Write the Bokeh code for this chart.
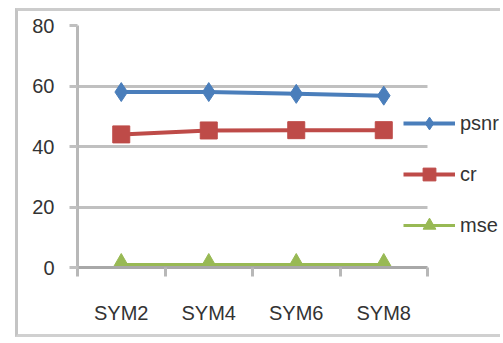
from bokeh.plotting import figure
from bokeh.models import FixedTicker, Legend, LegendItem
from bokeh.embed import file_html
from bokeh.resources import INLINE
import numpy as np

# wavelet families compared
categories = ["SYM2", "SYM4", "SYM6", "SYM8"]
psnr = [58.0, 58.0, 57.4, 56.8]
cr = [44.0, 45.3, 45.4, 45.4]
mse = [1.0, 1.0, 1.0, 1.0]
y_ticks = [0, 20, 40, 60, 80]

FONT = "Liberation Sans"
TEXT = "#333333"
GRID = "#c0c0c0"

n = len(categories)
xc = np.arange(n) + 0.5

# the frame reaches the right edge so the legend has room; axis and grid stop at n
p = figure(width=485, height=329, output_backend="svg", toolbar_location=None,
           x_range=(0, n * 426 / 350), y_range=(0, 80),
           min_border_left=59, min_border_right=0, min_border_top=14,
           min_border_bottom=73)
p.margin = (8, 0, 0, 15)
p.styles = {"border-left": "3px solid #c4c4c4", "border-top": "3px solid #cccccc",
            "border-bottom": "3px solid #d0d0d0"}
p.outline_line_color = None
p.background_fill_color = "white"
p.border_fill_color = "white"

# y axis
p.yaxis.ticker = FixedTicker(ticks=y_ticks)
p.yaxis.axis_line_color = "#b8b8b8"
p.yaxis.axis_line_width = 3
p.yaxis.major_tick_line_color = GRID
p.yaxis.major_tick_line_width = 3
p.yaxis.major_tick_out = 8
p.yaxis.major_tick_in = 0
p.yaxis.minor_tick_line_color = None
p.yaxis.major_label_standoff = 15
p.yaxis.major_label_text_font = FONT
p.yaxis.major_label_text_font_size = "20px"
p.yaxis.major_label_text_color = TEXT

# x axis: labels at category centres, ticks on category boundaries
p.xaxis.bounds = (0, n)
p.xaxis.ticker = FixedTicker(ticks=list(xc), minor_ticks=list(range(n + 1)))
p.xaxis.major_label_overrides = {float(x): c for x, c in zip(xc, categories)}
p.xaxis.axis_line_color = "#a8a8a8"
p.xaxis.axis_line_width = 3
p.xaxis.major_tick_line_color = None
p.xaxis.minor_tick_line_color = "#b8b8b8"
p.xaxis.minor_tick_line_width = 3
p.xaxis.minor_tick_out = 9
p.xaxis.minor_tick_in = 0
p.xaxis.major_label_standoff = 25
p.xaxis.major_label_text_font = FONT
p.xaxis.major_label_text_font_size = "20px"
p.xaxis.major_label_text_color = TEXT

p.xgrid.grid_line_color = None
p.ygrid.ticker = FixedTicker(ticks=y_ticks[1:])
p.ygrid.cross_bounds = (0, n)
p.ygrid.grid_line_color = GRID
p.ygrid.grid_line_width = 3

BLUE, RED, GREEN = "#4a7ebb", "#be4b48", "#98b954"

l1 = p.line(xc, psnr, line_color=BLUE, line_width=4)
m1 = p.scatter(xc, psnr, marker="diamond", size=19, fill_color=BLUE, line_color=BLUE)
l2 = p.line(xc, cr, line_color=RED, line_width=4)
m2 = p.scatter(xc, cr, marker="square", size=17, fill_color=RED, line_color=RED)
l3 = p.line(xc, mse, line_color=GREEN, line_width=3)
m3 = p.scatter(xc, mse, marker="triangle", size=19, fill_color=GREEN, line_color=GREEN)

legend = Legend(items=[LegendItem(label="psnr", renderers=[l1, m1]),
                       LegendItem(label="cr", renderers=[l2, m2]),
                       LegendItem(label="mse", renderers=[l3, m3])],
                location=(326, 26), orientation="vertical")
legend.padding = 0
legend.margin = 0
legend.spacing = 19
legend.glyph_width = 52
legend.glyph_height = 32
legend.label_height = 32
legend.label_standoff = 5
legend.label_text_font = FONT
legend.label_text_font_size = "20px"
legend.label_text_color = TEXT
legend.background_fill_alpha = 0
legend.border_line_alpha = 0
p.add_layout(legend, "center")

open("out.html", "w").write(file_html(p, INLINE))
